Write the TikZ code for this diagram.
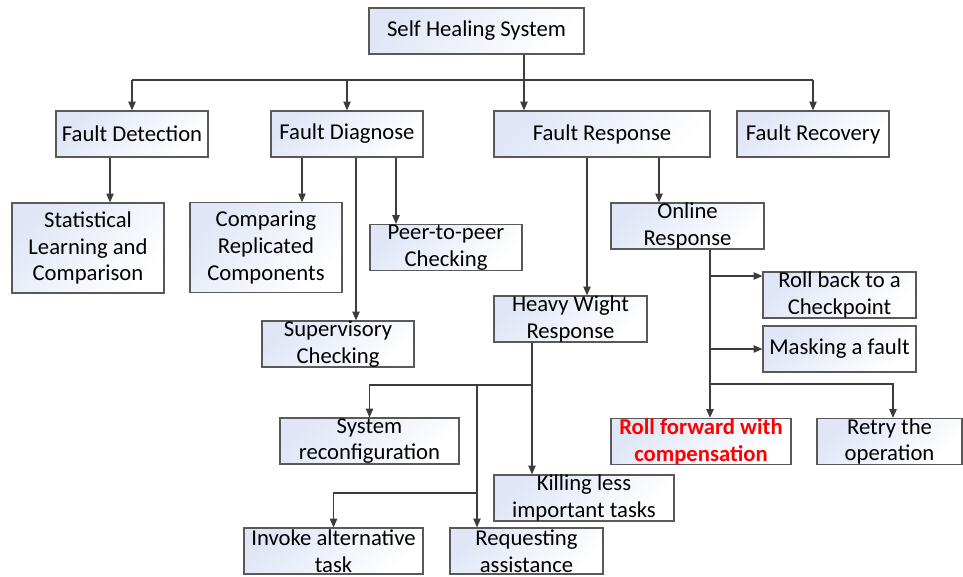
\documentclass[tikz,border=0pt]{standalone}
\usepackage{fontspec}
\setmainfont{Carlito}
\usetikzlibrary{arrows.meta}

\definecolor{boxtint}{RGB}{224,230,246}
\definecolor{boxline}{RGB}{89,89,89}
\definecolor{wirecol}{RGB}{60,60,60}

\tikzset{every picture/.style={line width=0.35pt}}
\tikzset{
  unit/.style={draw=boxline, line width=0.9pt, left color=boxtint, right color=white, shading angle=45,
    inner sep=0pt, minimum height=34.5pt, align=center, font=\fontsize{17}{20}\selectfont},
  wire/.style={draw=wirecol, line width=0.8pt},
  arr/.style={wire, -{Triangle[length=6.5pt,width=5.5pt]}},
}

\begin{document}
\begin{tikzpicture}[x=0.75pt,y=0.75pt,yscale=-1,xscale=1]
  \useasboundingbox (0,0) rectangle (963,577);
  \clip (0,0) rectangle (963,577);

  % top level
  \node[unit, minimum width=161.25pt] (root) at (476.5,31) {Self Healing System};
  \node[unit, minimum width=114pt] (detect) at (132,134) {Fault Detection};
  \node[unit, minimum width=114pt] (diagnose) at (347,134) {Fault Diagnose};
  \node[unit, minimum width=162pt] (response) at (602,134) {Fault Response};
  \node[unit, minimum width=114pt] (recovery) at (813,134) {Fault Recovery};

  % detection and diagnosis
  \node[unit, minimum width=114pt, minimum height=67.5pt] (stat) at (88,248) {Statistical\\Learning and\\Comparison};
  \node[unit, minimum width=114pt, minimum height=67pt] (compare) at (266,247.5) {Comparing\\Replicated\\Components};
  \node[unit, minimum width=114pt] (peer) at (446,247.5) {Peer-to-peer\\Checking};
  \node[unit, minimum width=114pt] (superv) at (338,344) {Supervisory\\Checking};

  % response
  \node[unit, minimum width=114.75pt] (online) at (687.5,226) {Online\\Response};
  \node[unit, minimum width=114.75pt] (rollback) at (839.5,295) {Roll back to a\\Checkpoint};
  \node[unit, minimum width=114.75pt] (masking) at (839.5,349) {Masking a fault};
  \node[unit, minimum width=135pt, text=red, font=\fontsize{17}{20}\selectfont\bfseries] (rollfwd) at (701,441.5) {Roll forward with\\compensation};
  \node[unit, minimum width=108.75pt] (retry) at (889.5,441.5) {Retry the\\operation};
  \node[unit, minimum width=114.75pt] (heavy) at (570.5,319) {Heavy Wight\\Response};
  \node[unit, minimum width=134.25pt] (sysconf) at (369.5,441) {System\\reconfiguration};
  \node[unit, minimum width=135pt] (killing) at (584,498) {Killing less\\important tasks};
  \node[unit, minimum width=134.25pt] (invoke) at (333.5,551) {Invoke alternative\\task};
  \node[unit, minimum width=114.75pt] (request) at (526.5,551) {Requesting\\assistance};

  % branch points
  \coordinate (bus) at (524,80);
  \coordinate (tapstat) at (110,0);
  \coordinate (tapcmp) at (302,0);
  \coordinate (tapsup) at (356,0);
  \coordinate (tappeer) at (396,0);
  \coordinate (tapheavy) at (587,0);
  \coordinate (taponl) at (659,0);
  \coordinate (onltap) at (710,384);
  \coordinate (rbktap) at (710,276);
  \coordinate (rtytap) at (893,384);
  \coordinate (heavytap) at (532,385);
  \coordinate (reqtap) at (477,493);

  % connectors
  \draw[arr] (root.south -| bus) -- (response.north -| bus);
  \draw[wire] (detect.north |- bus) -- (recovery.north |- bus);
  \foreach \n in {detect,diagnose,recovery}
    \draw[arr] (\n.north |- bus) -- (\n.north);

  \draw[arr] (detect.south -| tapstat) -- (stat.north -| tapstat);
  \draw[arr] (diagnose.south -| tapcmp) -- (compare.north -| tapcmp);
  \draw[arr] (diagnose.south -| tapsup) -- (superv.north -| tapsup);
  \draw[arr] (diagnose.south -| tappeer) -- (peer.north -| tappeer);
  \draw[arr] (response.south -| tapheavy) -- (heavy.north -| tapheavy);
  \draw[arr] (response.south -| taponl) -- (online.north -| taponl);

  \draw[arr] (online.south -| onltap) -- (rollfwd.north -| onltap);
  \draw[arr] (rbktap) -- (rollback.west |- rbktap);
  \draw[arr] (masking.west -| onltap) -- (masking.west);
  \draw[arr] (onltap) -- (rtytap) -- (retry.north -| rtytap);

  \draw[arr] (heavy.south -| heavytap) -- (killing.north -| heavytap);
  \draw[arr] (heavytap) -| (sysconf.north);
  \draw[arr] (heavytap -| reqtap) -- (request.north -| reqtap);
  \draw[arr] (reqtap) -| (invoke.north);

\end{tikzpicture}
\end{document}
